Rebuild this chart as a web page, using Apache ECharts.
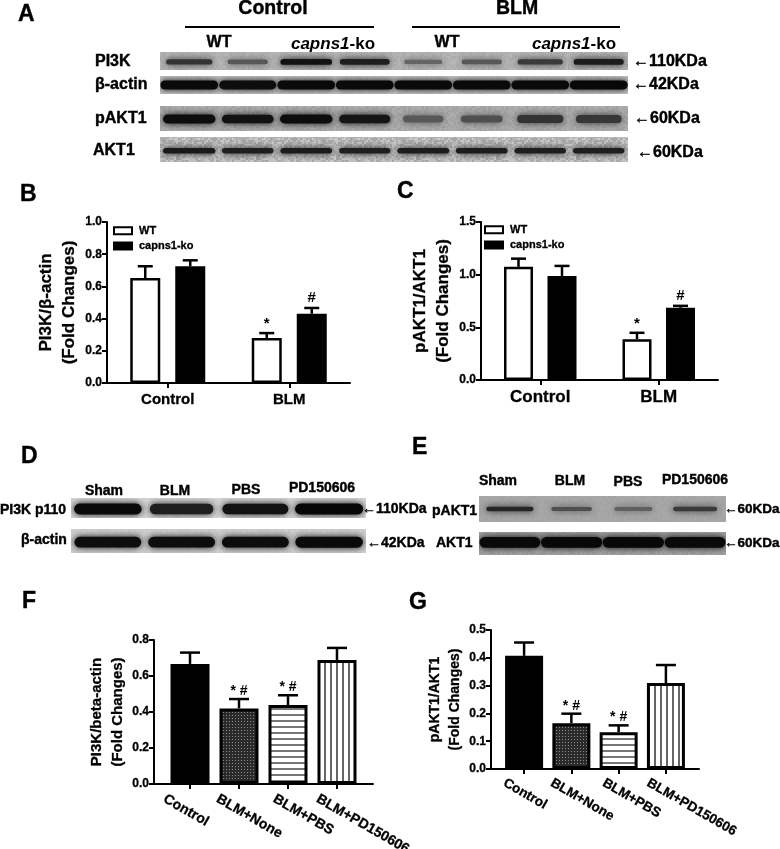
<!DOCTYPE html>
<html>
<head>
<meta charset="utf-8">
<title>PI3K and pAKT1 fold changes</title>
<script src="https://cdn.jsdelivr.net/npm/echarts@6/dist/echarts.min.js"></script>
<style>
	html, body { margin: 0; padding: 0; background: #fff; }
	#main { width: 780px; height: 849px; }
</style>
</head>
<body>
<div id="main"></div>
<script>
	// bar charts B and C
	var groupNames = ['Control', 'BLM'];
	var bWt = [0.652, 0.28];
	var bKo = [0.725, 0.43];
	var bWtTop = [0.725, 0.31];
	var bKoTop = [0.762, 0.466];
	var cWt = [1.074, 0.388];
	var cKo = [0.988, 0.685];
	var cWtTop = [1.152, 0.448];
	var cKoTop = [1.083, 0.704];
	var wtMarks = ['', '*'];
	var koMarks = ['', '#'];

	// bar charts F and G
	var treatNames = ['Control', 'BLM+None', 'BLM+PBS', 'BLM+PD150606'];
	var fValues = [0.667, 0.42, 0.439, 0.689];
	var fTops = [0.73, 0.472, 0.493, 0.756];
	var gValues = [0.407, 0.165, 0.132, 0.309];
	var gTops = [0.455, 0.199, 0.157, 0.374];
	var treatMarks = ['', '* #', '* #', ''];

	// blot band strength per lane, 0 = nothing, 1 = darkest
	var aPi3k = [0.72, 0.5, 0.92, 0.85, 0.42, 0.5, 0.68, 0.86];
	var aActin = [0.97, 0.95, 0.97, 0.97, 0.97, 0.97, 0.97, 0.98];
	var aPakt = [0.95, 0.92, 0.95, 0.9, 0.5, 0.55, 0.72, 0.7];
	var aAkt = [0.88, 0.85, 0.86, 0.84, 0.86, 0.86, 0.85, 0.85];
	var dPi3k = [0.97, 0.85, 0.92, 0.99];
	var dActin = [0.95, 0.95, 0.95, 0.97];
	var ePakt = [0.8, 0.55, 0.45, 0.68];
	var eAkt = [0.97, 0.98, 0.98, 0.97];

	var FONT = '"Liberation Sans", Arial, sans-serif';
	var chart = echarts.init(document.getElementById('main'), null, { renderer: 'canvas' });

	function makePattern(w, h, draw) {
		var c = document.createElement('canvas');
		c.width = w;
		c.height = h;
		draw(c.getContext('2d'));
		return { image: c, repeat: 'repeat' };
	}
	var stipple = makePattern(3, 3, function(g) {
		g.fillStyle = '#2a2a2a';
		g.fillRect(0, 0, 3, 3);
		g.fillStyle = '#8a8a8a';
		g.fillRect(1, 1, 1, 1);
	});
	var hStripes = makePattern(6, 6, function(g) {
		g.fillStyle = '#fff';
		g.fillRect(0, 0, 6, 6);
		g.fillStyle = '#777';
		g.fillRect(0, 0, 6, 2);
	});
	var vStripes = makePattern(6, 6, function(g) {
		g.fillStyle = '#fff';
		g.fillRect(0, 0, 6, 6);
		g.fillStyle = '#666';
		g.fillRect(0, 0, 2, 6);
	});
	var treatFills = ['#000', stipple, hStripes, vStripes];

	// film grain for the blot backgrounds
	var grainSeed = 7;
	function blotGrain(base, amp) {
		return makePattern(80, 40, function(g) {
			for (var y = 0; y < 40; y += 2) {
				for (var x = 0; x < 80; x += 2) {
					grainSeed = (grainSeed * 1103515245 + 12345) % 2147483648;
					var v = Math.round(base + ((grainSeed >> 8) % 200 / 100 - 1) * amp);
					g.fillStyle = 'rgb(' + v + ',' + v + ',' + v + ')';
					g.fillRect(x, y, 2, 2);
				}
			}
		});
	}

	var grids = [];
	var xAxes = [];
	var yAxes = [];
	var series = [];

	function addGrid(box) {
		// the long rotated labels must not push the plot area around
		grids.push(Object.assign({ outerBoundsMode: 'none' }, box));
	}

	function boldLabel(size) {
		return { fontFamily: FONT, fontWeight: 'bold', fontSize: size, color: '#000', textBorderColor: '#000', textBorderWidth: 0.3 };
	}

	function valueAxis(idx, max, interval, title, titleSize, gap, tickSize) {
		return {
			type: 'value', gridIndex: idx, min: 0, max: max, interval: interval,
			name: title, nameLocation: 'middle', nameGap: gap, nameRotate: 90,
			nameTextStyle: Object.assign(boldLabel(titleSize), { lineHeight: titleSize + 6 }),
			axisLine: { show: true, onZero: false, lineStyle: { color: '#000', width: 2 } },
			axisTick: { show: true, length: 5, lineStyle: { color: '#000', width: 2 } },
			axisLabel: Object.assign(boldLabel(tickSize), { margin: 5, formatter: function(v) { return v.toFixed(1); } }),
			splitLine: { show: false }
		};
	}

	function errorSeries(idx, points, marks, shift, capWidth, markSize, markGap) {
		return {
			type: 'custom', xAxisIndex: idx, yAxisIndex: idx, z: 1, silent: true,
			data: points,
			encode: { x: 0, y: 1 },
			renderItem: function(params, api) {
				var top = api.coord([api.value(0), api.value(1)]);
				var base = api.coord([api.value(0), api.value(2)]);
				var x = top[0] + shift;
				var line = { stroke: '#000', lineWidth: 2.5 };
				return {
					type: 'group',
					children: [
						{ type: 'line', shape: { x1: x, y1: base[1], x2: x, y2: top[1] }, style: line },
						{ type: 'line', shape: { x1: x - capWidth / 2, y1: top[1], x2: x + capWidth / 2, y2: top[1] }, style: line },
						{
							type: 'text', x: x, y: top[1] - markGap,
							style: {
								text: marks[params.dataIndex], align: 'center', verticalAlign: 'middle',
								font: 'bold ' + markSize + 'px ' + FONT, fill: '#000'
							}
						}
					]
				};
			}
		};
	}

	// B and C: two groups, WT and capns1-ko
	function addGroupChart(box, max, interval, title, titleSize, gap, labelSize, barWidth, wt, ko, wtTop, koTop, shift, capWidth) {
		var idx = grids.length;
		addGrid(box);
		xAxes.push({
			type: 'category', gridIndex: idx, data: groupNames,
			axisLine: { show: true, lineStyle: { color: '#000', width: 2 } },
			axisTick: { show: true, alignWithLabel: true, length: 5, lineStyle: { color: '#000', width: 2 } },
			axisLabel: Object.assign(boldLabel(labelSize), { margin: 9 })
		});
		yAxes.push(valueAxis(idx, max, interval, title, titleSize, gap, 12));
		series.push({
			name: 'WT', type: 'bar', xAxisIndex: idx, yAxisIndex: idx, data: wt, barWidth: barWidth, barGap: '50%', z: 2,
			itemStyle: { color: '#fff', borderColor: '#000', borderWidth: 2.5 }
		});
		series.push({
			name: 'capns1-ko', type: 'bar', xAxisIndex: idx, yAxisIndex: idx, data: ko, barWidth: barWidth, z: 2,
			itemStyle: { color: '#000', borderColor: '#000', borderWidth: 2.5 }
		});
		var wtPoints = wtTop.map(function(t, i) { return [i, t, wt[i]]; });
		var koPoints = koTop.map(function(t, i) { return [i, t, ko[i]]; });
		series.push(errorSeries(idx, wtPoints, wtMarks, -shift, capWidth, 15, 9));
		series.push(errorSeries(idx, koPoints, koMarks, shift, capWidth, 15, 10));
	}

	// F and G: four treatments on a value x axis, so the axis line can run past the first and last bar
	function addTreatChart(box, xMin, xMax, yMax, interval, title, titleSize, gap, barWidth, values, tops, capWidth, labelAt, labelSize, labelMargin) {
		var idx = grids.length;
		addGrid(box);
		xAxes.push({
			type: 'value', gridIndex: idx, min: xMin, max: xMax,
			axisLine: { show: true, onZero: false, lineStyle: { color: '#000', width: 2 } },
			axisTick: { show: true, length: 5, customValues: [0, 1, 2, 3], lineStyle: { color: '#000', width: 2 } },
			axisLabel: Object.assign(boldLabel(labelSize), {
				rotate: -30, margin: labelMargin, hideOverlap: false,
				customValues: labelAt,
				formatter: function(v) {
					var best = 0;
					labelAt.forEach(function(p, i) {
						if (Math.abs(p - v) < Math.abs(labelAt[best] - v)) best = i;
					});
					return treatNames[best];
				}
			}),
			splitLine: { show: false }
		});
		yAxes.push(valueAxis(idx, yMax, interval, title, titleSize, gap, 12));
		series.push({
			type: 'bar', xAxisIndex: idx, yAxisIndex: idx, barWidth: barWidth, z: 2,
			data: values.map(function(v, i) {
				return { value: [i, v], itemStyle: { color: treatFills[i], borderColor: '#000', borderWidth: 3 } };
			})
		});
		var points = tops.map(function(t, i) { return [i, t, values[i]]; });
		series.push(errorSeries(idx, points, treatMarks, 0, capWidth, 14, 8));
	}

	function addBlot(box, bg, strengths, bandAt, bandHeight, fill) {
		var idx = grids.length;
		addGrid(Object.assign({ show: true, backgroundColor: bg, borderWidth: 0 }, box));
		xAxes.push({ type: 'category', gridIndex: idx, show: false, data: strengths.map(function(v, i) { return i; }) });
		yAxes.push({ type: 'value', gridIndex: idx, show: false, min: 0, max: 1 });
		series.push({
			type: 'custom', xAxisIndex: idx, yAxisIndex: idx, silent: true, clip: true,
			data: strengths.map(function(v, i) { return [i, v]; }),
			encode: { x: 0, y: 1 },
			renderItem: function(params, api) {
				var s = api.value(1);
				var c = api.coord([api.value(0), bandAt]);
				var laneW = api.size([1, 0])[0];
				var w = laneW * fill * (0.5 + 0.5 * s);
				var h = bandHeight * (0.55 + 0.45 * s);
				var g = Math.round(5 + (1 - s) * 165);
				var col = 'rgb(' + g + ',' + g + ',' + g + ')';
				return {
					type: 'rect',
					shape: { x: c[0] - w / 2, y: c[1] - h / 2, width: w, height: h, r: h / 2 },
					style: { fill: col, shadowBlur: 7, shadowColor: col }
				};
			}
		});
	}

	addBlot({ left: 160, top: 52, width: 468, height: 18 }, blotGrain(178, 6), aPi3k, 0.45, 6, 0.92);
	addBlot({ left: 160, top: 76, width: 468, height: 18 }, blotGrain(198, 5), aActin, 0.5, 9, 1);
	addBlot({ left: 160, top: 106, width: 468, height: 25 }, blotGrain(168, 8), aPakt, 0.48, 9, 0.92);
	addBlot({ left: 160, top: 137, width: 468, height: 25 }, blotGrain(185, 22), aAkt, 0.45, 6, 0.95);
	addBlot({ left: 71, top: 498, width: 295, height: 20 }, blotGrain(212, 4), dPi3k, 0.45, 11, 0.93);
	addBlot({ left: 71, top: 529, width: 295, height: 24 }, blotGrain(205, 5), dActin, 0.45, 11, 0.93);
	addBlot({ left: 479, top: 496, width: 247, height: 26 }, blotGrain(166, 3), ePakt, 0.5, 5, 0.85);
	addBlot({ left: 479, top: 532, width: 247, height: 23 }, blotGrain(160, 6), eAkt, 0.55, 11, 1);

	addGroupChart({ left: 107, top: 222, width: 243, height: 161 }, 1, 0.2, 'PI3K/β-actin\n(Fold Changes)', 17, 24, 15, 30, bWt, bKo, bWtTop, bKoTop, 22.5, 15);
	addGroupChart({ left: 481, top: 222, width: 237, height: 158 }, 1.5, 0.5, 'pAKT1/AKT1\n(Fold Changes)', 17, 24, 17, 29, cWt, cKo, cWtTop, cKoTop, 21.75, 15);
	addTreatChart({ left: 154, top: 640, width: 219, height: 144 }, -0.735, 3.735, 0.8, 0.2, 'PI3K/beta-actin\n(Fold Changes)', 15, 16, 39, fValues, fTops, 20, [-0.52, 0.56, 1.72, 2.6], 14, 14);
	addTreatChart({ left: 491, top: 630, width: 208, height: 139 }, -0.7, 3.7, 0.5, 0.1, 'pAKT1/AKT1\n(Fold Changes)', 14, 15, 38, gValues, gTops, 20, [-0.42, 0.58, 1.68, 2.62], 13.5, 13);

	// text around the blots: [text, x, y, size, align]
	var blotTexts = [
		['A', 18, 15, 23, 'left'], ['B', 20, 195, 23, 'left'], ['C', 397, 192, 23, 'left'],
		['D', 21, 457, 23, 'left'], ['E', 412, 448, 23, 'left'], ['F', 22, 602, 23, 'left'], ['G', 409, 603, 23, 'left'],
		['Control', 273, 9, 19.5, 'center'], ['BLM', 517, 9, 19.5, 'center'],
		['WT', 219, 43, 16, 'center'], ['WT', 447, 43, 16, 'center'],
		['PI3K', 95, 62, 16, 'left'], ['β-actin', 95, 85, 16, 'left'], ['pAKT1', 95, 119, 16, 'left'], ['AKT1', 93, 151, 16, 'left'],
		['←110KDa', 633, 62, 16, 'left'], ['←42KDa', 633, 85, 16, 'left'], ['←60KDa', 634, 119, 16, 'left'], ['←60KDa', 637, 153, 16, 'left'],
		['Sham', 104, 491, 14, 'center'], ['BLM', 175, 491, 14, 'center'], ['PBS', 246, 490, 14, 'center'], ['PD150606', 322, 488, 14, 'center'],
		['PI3K p110', 0, 510, 14, 'left'], ['β-actin', 21, 540, 14, 'left'],
		['←110KDa', 362, 509, 14, 'left'], ['←42KDa', 367, 543, 14, 'left'],
		['Sham', 498, 481, 14, 'center'], ['BLM', 570, 481, 14, 'center'], ['PBS', 628, 482, 14, 'center'], ['PD150606', 695, 480, 14, 'center'],
		['pAKT1', 432, 511, 14, 'left'], ['AKT1', 436, 543, 14, 'left'],
		['←60KDa', 724, 509, 13.5, 'left'], ['←60KDa', 724, 543, 13.5, 'left']
	];
	var graphics = blotTexts.map(function(t) {
		return {
			type: 'text', x: t[1], y: t[2], silent: true,
			style: {
				text: t[0], align: t[4], verticalAlign: 'middle', font: 'bold ' + t[3] + 'px ' + FONT,
				fill: '#000', stroke: '#000', lineWidth: 0.4
			}
		};
	});
	[[333, 44], [574, 44]].forEach(function(p) {
		graphics.push({
			type: 'text', x: p[0], y: p[1], silent: true,
			style: {
				text: '{i|capns1}{r|-ko}', align: 'center', verticalAlign: 'middle', fill: '#000',
				rich: {
					i: { font: 'italic bold 17px ' + FONT, fill: '#000' },
					r: { font: 'bold 17px ' + FONT, fill: '#000' }
				}
			}
		});
	});
	[[185, 374], [412, 620]].forEach(function(p) {
		graphics.push({ type: 'line', silent: true, shape: { x1: p[0], y1: 27, x2: p[1], y2: 27 }, style: { stroke: '#000', lineWidth: 2 } });
	});

	function legendAt(left, top) {
		return {
			left: left, top: top, padding: 0, orient: 'vertical', icon: 'rect', itemWidth: 18, itemHeight: 7, itemGap: 4, selectedMode: false,
			data: ['WT', 'capns1-ko'],
			textStyle: Object.assign(boldLabel(11), { padding: [0, 0, 0, 2] })
		};
	}

	chart.setOption({
		animation: false,
		backgroundColor: '#fff',
		grid: grids,
		xAxis: xAxes,
		yAxis: yAxes,
		legend: [legendAt(113, 225), legendAt(484, 224)],
		graphic: graphics,
		series: series
	});
</script>
</body>
</html>
